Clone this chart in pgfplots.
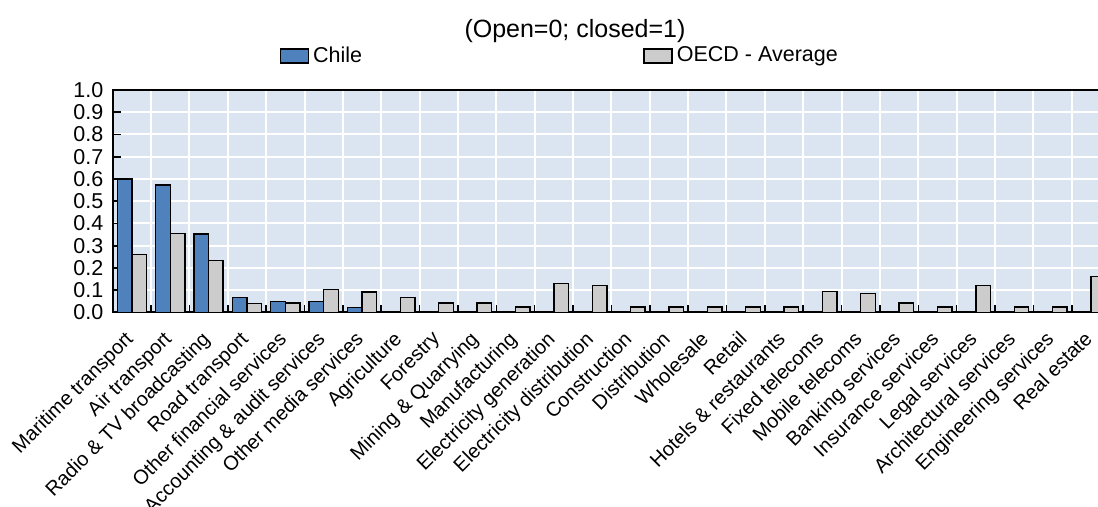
\documentclass[border=0pt]{standalone}
\usepackage{pgfplots}
\pgfplotsset{compat=1.18}
\usepackage{fontspec}
\setmainfont{Liberation Sans}

\definecolor{chileblue}{HTML}{4F81BD}
\definecolor{oecdgrey}{HTML}{CCCCCC}
\definecolor{plotbg}{HTML}{DBE5F1}

% 1px of the reference = 0.5pt
\pgfplotsset{
  boxlegend/.style={legend image code/.code={
      \draw[##1,line width=0.7pt] (0pt,-3.5pt) rectangle (14pt,3.5pt);}},
}

\begin{document}
\fontsize{10.75pt}{12.9pt}\selectfont
\begin{tikzpicture}
\begin{axis}[
    at={(56.35pt,97.25pt)}, anchor=south west,
    scale only axis,
    width=498.7pt, height=111.25pt,
    ybar=0pt, bar width=0.38,
    xmin=-0.5, xmax=25.5,
    ymin=0, ymax=1,
    axis background/.style={fill=plotbg},
    axis line style={line width=1pt, black},
    xtick={0,...,25},
    xticklabels={Maritime transport, Air transport, Radio \& TV broadcasting,
      Road transport, Other financial services, Accounting \& audit services,
      Other media services, Agriculture, Forestry, Mining \& Quarrying,
      Manufacturing, Electricity generation, Electricity distribution,
      Construction, Distribution, Wholesale, Retail, Hotels \& restaurants,
      Fixed telecoms, Mobile telecoms, Banking services, Insurance services,
      Legal services, Architectural services, Engineering services, Real estate},
    major x tick style={draw=none},
    minor x tick num=1,
    xminorgrids=true, xmajorgrids=false,
    ymajorgrids=true,
    ytick={0,0.1,...,1.0},
    grid style={white, line width=1pt},
    minor grid style={white, line width=1pt},
    tick align=inside,
    xtick pos=bottom, ytick pos=left,
    major tick length=4pt, minor tick length=3.5pt,
    tick style={black, line width=0.8pt},
    /pgf/number format/assume math mode=true,
    yticklabel style={/pgf/number format/.cd, fixed, fixed zerofill, precision=1,
      /tikz/.cd, inner sep=0pt, xshift=-4.5pt},
    xticklabel style={font=\fontsize{10pt}{12pt}\selectfont,
      anchor=north east, inner sep=0pt, xshift=-4pt, yshift=-8.5pt, rotate=45},
    legend columns=2,
    legend style={at={(0.167,1.153)}, anchor=west, draw=none, fill=none,
      inner sep=0pt, column sep=2pt, nodes={inner sep=0pt, anchor=west}},
    legend cell align=left,
  ]
  \addplot[fill=chileblue, draw=black, line width=0.7pt, boxlegend] coordinates {
    (0,0.600) (1,0.573) (2,0.353) (3,0.067) (4,0.050) (5,0.050) (6,0.023)
  };
  \addlegendentry{\makebox[163.2pt][l]{Chile}}
  \addplot[fill=oecdgrey, draw=black, line width=0.7pt, boxlegend] coordinates {
    (0,0.260) (1,0.355) (2,0.233) (3,0.041) (4,0.042) (5,0.102) (6,0.093)
    (7,0.068) (8,0.043) (9,0.043) (10,0.025) (11,0.130) (12,0.120)
    (13,0.025) (14,0.025) (15,0.025) (16,0.025) (17,0.025) (18,0.095)
    (19,0.086) (20,0.043) (21,0.025) (22,0.120) (23,0.025) (24,0.025)
    (25,0.163)
  };
  \addlegendentry{OECD - Average}
\end{axis}
\node[font=\fontsize{12.5pt}{15pt}\selectfont] at (287.5pt,238pt) {(Open=0; closed=1)};
\pgfresetboundingbox
\useasboundingbox (0,0) rectangle (549pt,253.5pt);
\end{tikzpicture}
\end{document}
